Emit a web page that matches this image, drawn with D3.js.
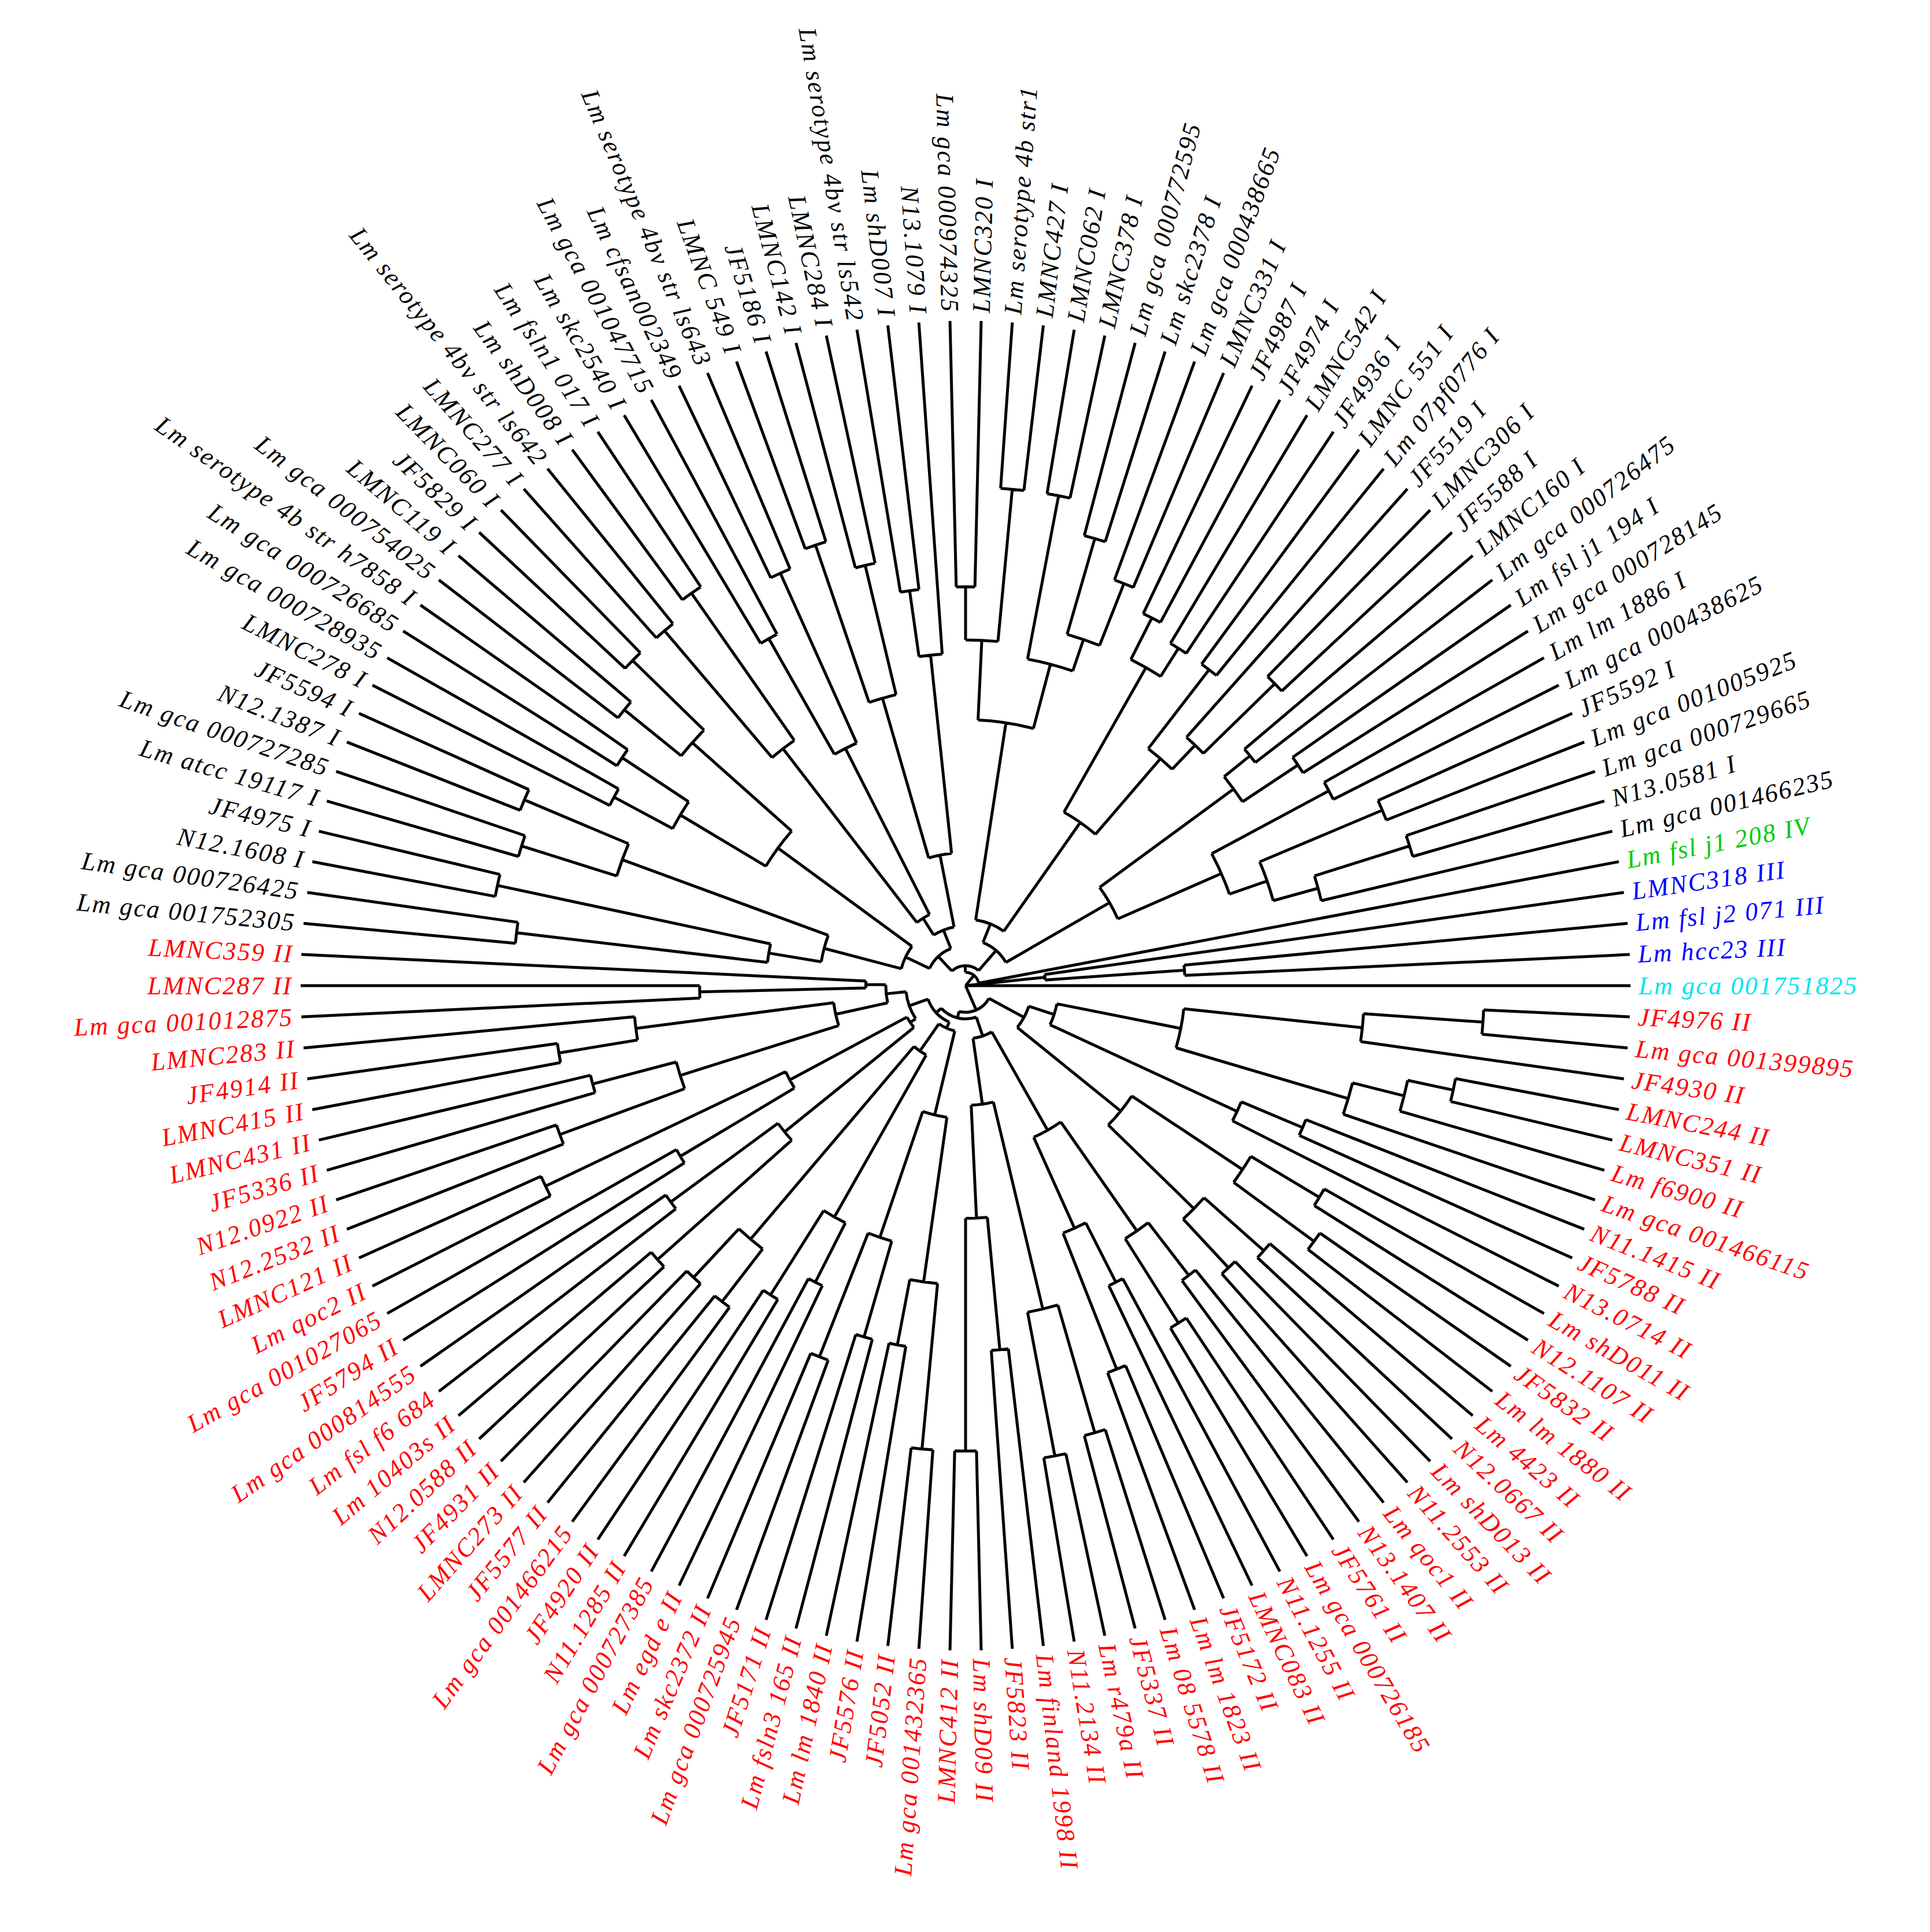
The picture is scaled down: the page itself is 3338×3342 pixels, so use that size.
<!DOCTYPE html>
<html><head><meta charset="utf-8">
<script src="https://cdn.jsdelivr.net/npm/d3@7"></script>
<style>body{margin:0;background:#fff}</style></head>
<body><svg id="c" width="3338" height="3342"></svg>
<script>
// Tree data: "(a,b)r" where r is node radius (fraction of tip radius)
const cyanClade = "Lm gca 001751825";
const II1 = "((((JF4976 II,Lm gca 001399895)0.78,JF4930 II)0.6,(((LMNC244 II,LMNC351 II)0.75,Lm f6900 II)0.68,Lm gca 001466115)0.6)0.33,((N11.1415 II,JF5788 II)0.55,N13.0714 II)0.45)0.14";
const II2 = "(((Lm shD011 II,N12.1107 II)0.62,(JF5832 II,Lm lm 1880 II)0.65)0.5,((Lm 4423 II,N12.0667 II)0.6,(Lm shD013 II,N11.2553 II)0.58)0.48)0.3";
const II3 = "(((Lm qoc1 II,N13.1407 II)0.55,(JF5761 II,Lm gca 000726185)0.6)0.45,((N11.1255 II,LMNC083 II)0.5,(JF5172 II,Lm lm 1823 II)0.62)0.4)0.25";
const II4 = "(((Lm 08 5578 II,JF5337 II)0.7,(Lm r479a II,N11.2134 II)0.72)0.5,((Lm finland 1998 II,JF5823 II)0.55,(Lm shD09 II,LMNC412 II)0.7)0.35)0.18";
const II5 = "(((Lm gca 001432365,JF5052 II)0.7,(JF5576 II,Lm lm 1840 II)0.55)0.45,((Lm fsln3 165 II,JF5171 II)0.55,(Lm gca 000725945,Lm skc2372 II)0.6)0.4)0.2";
const II6 = "(((Lm egd e II,Lm gca 000727385)0.5,(N11.1285 II,JF4920 II)0.55)0.4,((Lm gca 001466215,JF5577 II)0.6,(LMNC273 II,JF4931 II)0.6)0.5)0.12";
const II7 = "(((N12.0588 II,Lm 10403s II)0.62,(Lm fsl f6 684,Lm gca 000814555)0.55)0.35,((JF5794 II,Lm gca 001027065)0.5,(Lm qoc2 II,LMNC121 II)0.7)0.3)0.1";
const II8 = "(((N12.2532 II,N12.0922 II)0.65,(JF5336 II,LMNC431 II)0.58)0.45,((LMNC415 II,JF4914 II)0.62,LMNC283 II)0.5)0.2";
const II9 = "((Lm gca 001012875,LMNC287 II)0.4,LMNC359 II)0.15";
const lineageII = `((${II1},${II2})0.1,((${II3},${II4})0.08,((${II5},${II6})0.07,(${II7},(${II8},${II9})0.12)0.09)0.06)0.05)0.04`;
const I1 = "(((Lm gca 001752305,Lm gca 000726425)0.68,(N12.1608 I,JF4975 I)0.72)0.3,((Lm atcc 19117 I,Lm gca 000727285)0.7,(N12.1387 I,JF5594 I)0.72)0.55)0.22";
const I2 = "(((LMNC278 I,Lm gca 000728935)0.6,(Lm gca 000726685,Lm serotype 4b str h7858 I)0.62)0.5,((Lm gca 000754025,LMNC119 I)0.66,(JF5829 I,LMNC060 I)0.7)0.55)0.35";
const I3 = "(((LMNC277 I,Lm serotype 4bv str ls642)0.7,(Lm shD008 I,Lm fsln1 017 I)0.72)0.45,((Lm skc2540 I,Lm gca 001047715)0.6,(Lm cfsan002349,Lm serotype 4bv str ls643)0.68)0.4)0.12";
const I4 = "(((LMNC 549 I,JF5186 I)0.7,(LMNC142 I,LMNC284 I)0.65)0.45,((Lm serotype 4bv str ls542,Lm shD007 I)0.6,N13.1079 I)0.5)0.2";
const I5 = "(((Lm gca 000974325,LMNC320 I)0.6,(Lm serotype 4b str1,LMNC427 I)0.75)0.52,((LMNC062 I,LMNC378 I)0.75,((Lm gca 000772595,Lm skc2378 I)0.7,(Lm gca 000438665,LMNC331 I)0.65)0.55)0.5)0.4";
const I6 = "(((JF4987 I,JF4974 I)0.62,(LMNC542 I,JF4936 I)0.6)0.55,((LMNC 551 I,Lm 07pf0776 I)0.6,(JF5519 I,(LMNC306 I,JF5588 I)0.65)0.5)0.45)0.3";
const I7 = "(((LMNC160 I,Lm gca 000726475)0.55,(Lm fsl j1 194 I,Lm gca 000728145)0.6)0.5,((Lm lm 1886 I,Lm gca 000438625)0.62,((JF5592 I,Lm gca 001005925)0.68,((Lm gca 000729665,N13.0581 I)0.7,Lm gca 001466235)0.55)0.48)0.42)0.25";
const lineageI = `(((${I1},${I2})0.1,(${I3},${I4})0.09)0.06,((${I5},${I6})0.1,${I7})0.07)0.03`;
const lineageIV = "Lm fsl j1 208 IV";
const lineageIII = "(LMNC318 III,(Lm fsl j2 071 III,Lm hcc23 III)0.33)0.12";
const lineageColors = {cyan:"#00e5ee", II:"#ff0000", I:"#000000", IV:"#00cc00", III:"#0000ff"};

function parse(s){let i=0;
 function node(){ if(s[i]==='('){i++;const c=[node()];while(s[i]===','){i++;c.push(node());}i++;
   let num='';while(i<s.length&&/[0-9.]/.test(s[i]))num+=s[i++];return {children:c,r:+num||0};}
  let name='';while(i<s.length&&!',()'.includes(s[i]))name+=s[i++];return {name:name.trim()};}
 return node();}
function tag(n,l){n.lin=l;(n.children||[]).forEach(c=>tag(c,l));return n;}
const IVI={children:[tag(parse(lineageI),"I"),tag(parse(lineageIV),"IV")],r:0.02,lin:"I"};
const rootData={r:0,children:[tag(parse(cyanClade),"cyan"),tag(parse(lineageII),"II"),IVI,tag(parse(lineageIII),"III")]};

const root=d3.hierarchy(rootData);
const leaves=root.leaves();
const cx=1670,cy=1705;
const rad=d3.scaleLinear().domain([0,1]).range([0,1150]);
const ang=d3.scaleLinear().domain([0,leaves.length]).range([0,2*Math.PI]);
leaves.forEach((l,i)=>{l.a=ang(i);l.rr=1;});
root.eachAfter(n=>{if(n.children){n.a=(n.children[0].a+n.children[n.children.length-1].a)/2;n.rr=n.data.r;}});

const svg=d3.select("#c");
const g=svg.append("g");
const p=d3.path();
root.each(n=>{
 if(n.parent){const r0=rad(n.parent.rr),r1=rad(n.rr);
  p.moveTo(cx+r0*Math.cos(n.a),cy+r0*Math.sin(n.a));p.lineTo(cx+r1*Math.cos(n.a),cy+r1*Math.sin(n.a));}
 if(n.children&&n.parent){const r=rad(n.rr),a0=n.children[0].a,a1=n.children[n.children.length-1].a;
  p.moveTo(cx+r*Math.cos(a0),cy+r*Math.sin(a0));p.arc(cx,cy,r,a0,a1);}
});
g.append("path").attr("d",p.toString()).attr("fill","none").attr("stroke","#000").attr("stroke-width",5);

const R=rad(1)+14;
g.selectAll("text").data(leaves).join("text")
 .attr("transform",d=>{const deg=d.a*180/Math.PI;const flip=deg>90&&deg<270;
   return `translate(${cx+R*Math.cos(d.a)},${cy+R*Math.sin(d.a)}) rotate(${flip?deg+180:deg})`;})
 .attr("text-anchor",d=>{const deg=d.a*180/Math.PI;return deg>90&&deg<270?"end":"start";})
 .attr("dominant-baseline","central")
 .attr("font-family","Liberation Serif").attr("font-style","italic").attr("font-size",44)
 .attr("letter-spacing",2.5)
 .attr("fill",d=>lineageColors[d.data.lin])
 .text(d=>d.data.name);
</script></body></html>
